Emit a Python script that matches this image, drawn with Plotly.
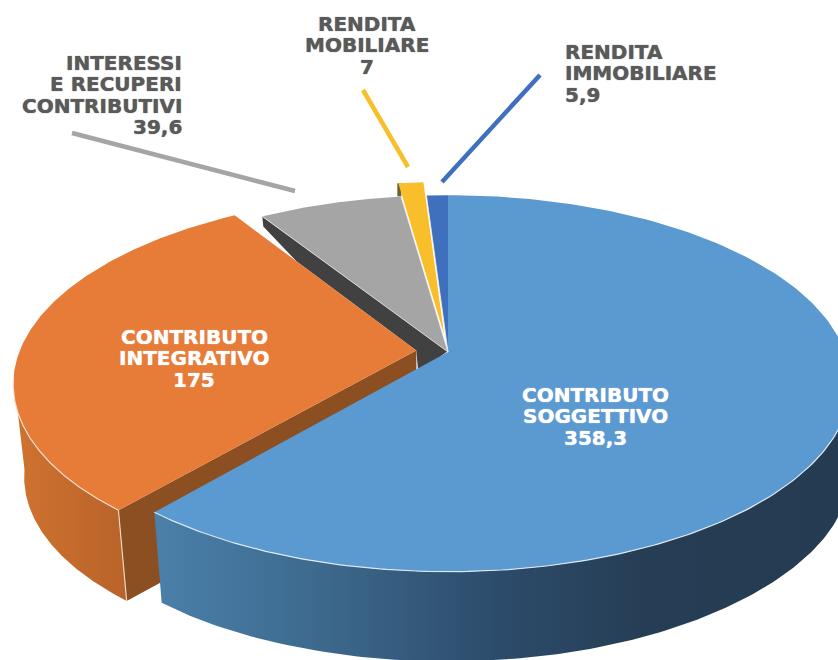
import numpy as np
import plotly.graph_objects as go

# ---------- data ----------
categories = ["Contributo soggettivo", "Contributo integrativo",
              "Interessi e recuperi contributivi", "Rendita mobiliare", "Rendita immobiliare"]
values = [358.3, 175, 39.6, 7, 5.9]
value_labels = ["358,3", "175", "39,6", "7", "5,9"]
label_lines = [["CONTRIBUTO", "SOGGETTIVO"], ["CONTRIBUTO", "INTEGRATIVO"],
               ["INTERESSI", "E RECUPERI", "CONTRIBUTIVI"], ["RENDITA", "MOBILIARE"],
               ["RENDITA", "IMMOBILIARE"]]

# ---------- style / layout ----------
W, H = 838, 660
CX, CY = 448, 352          # pie centre on the page
RX, RY, K = 397, 183, 0.167  # perspective disc
SX, SY, DEPTH = 0.975, 0.985, 93  # lower face of the extrusion
TOP = ["#5b99d1", "#e77c38", "#a5a5a5", "#f8bf2b", "#3f70bd"]
EXPLODE = [(0, 0), (-0.08, 0.008), (0, 0), (-0.01, 0.099), (0, 0)]
FONT = "DejaVu Sans"
DARK_TEXT = "#5a5a5a"

total = sum(values)
edges = np.concatenate([[0], np.cumsum(values)]) / total * 360


def project(theta, r=1.0, off=(0, 0), lower=False):
    t = np.radians(np.atleast_1d(theta))
    u = r * np.sin(t) + off[0]
    v = r * np.cos(t) + off[1]
    d = 1 + K * v
    x, y = RX * u / d, -RY * v / d
    if lower:
        flare = 1 + 0.02 * (np.clip(x, 0, None) / RX) ** 4
        return CX + SX * x * flare, CY + DEPTH + SY * y
    return CX + x, CY + y


def arc(a, b, n=160):
    return np.linspace(a, b, n)


fig = go.Figure()


def poly(xs, ys, color=None, gradient=None):
    kw = dict(fillgradient=gradient) if gradient else dict(fillcolor=color)
    fig.add_trace(go.Scatter(x=list(xs), y=list(ys), mode="lines", fill="toself",
                             line=dict(width=0), hoverinfo="skip", **kw))


def stroke(xs, ys, color, width, opacity=1.0):
    fig.add_trace(go.Scatter(x=list(xs), y=list(ys), mode="lines", opacity=opacity,
                             line=dict(color=color, width=width), hoverinfo="skip"))


def wedge(i):
    xa, ya = project(arc(edges[i], edges[i + 1]), off=EXPLODE[i])
    x0, y0 = project(0, r=0, off=EXPLODE[i])
    return np.r_[x0, xa, x0], np.r_[y0, ya, y0]


def side(a, b, off):
    xt, yt = project(arc(a, b), off=off)
    xb, yb = project(arc(a, b), off=off, lower=True)
    return np.r_[xt, xb[::-1]], np.r_[yt, yb[::-1]]


# inner dark face of the grey slice
gx, gy = project(edges[2])
ox, oy = project(0, r=0, off=EXPLODE[1])
cx0, cy0 = project(0, r=0)
cxr, cyr = project(edges[2], off=EXPLODE[1])   # far corner of the orange slice
JOIN = 0.34                                    # where the dark face meets the orange edge
jx, jy = cxr[0] + JOIN * (ox[0] - cxr[0]), cyr[0] + JOIN * (oy[0] - cyr[0])
poly([gx[0], gx[0] + 1, jx, ox[0], ox[0] + 2, cx0[0], gx[0]],
     [gy[0], gy[0] + 10, jy, oy[0], oy[0] + 22, cy0[0] - 1, gy[0]], "#414141")
poly(*wedge(2), TOP[2])

# small slices
yx, yy = project(edges[3], off=EXPLODE[3])
poly([yx[0] - 1, yx[0] + 3, yx[0] + 3, yx[0] - 1], [yy[0], yy[0], yy[0] + 13, yy[0] + 13], "#6b6033")
poly(*wedge(3), TOP[3])
poly(*wedge(4), TOP[4])

# orange slice, with its faces
bx0, by0 = project(0, r=0, off=EXPLODE[1], lower=True)
cxb, cyb = project(edges[1], off=EXPLODE[1], lower=True)
cxt, cyt = project(edges[1], off=EXPLODE[1])
poly([ox[0], cxt[0], cxb[0], bx0[0], ox[0]], [oy[0], cyt[0], cyb[0], by0[0], oy[0]], "#8c4f22")
poly(*side(edges[1], 262, EXPLODE[1]),
     gradient=dict(type="horizontal", colorscale=[[0, "#cf7330"], [1, "#b9632a"]]))
poly(*wedge(1), TOP[1])
rx_o, ry_o = project(arc(edges[1], 262), off=EXPLODE[1])
stroke(rx_o, ry_o, "#f6e7da", 1.2, 0.9)
stroke([cxt[0], cxb[0]], [cyt[0], cyb[0]], "#f6e7da", 1.2, 0.85)

# main blue slice, with its faces
poly(*side(90, edges[1], EXPLODE[0]),
     gradient=dict(type="horizontal", colorscale=[[0, "#4b80aa"], [0.2, "#3f6d92"], [0.5, "#2c4b6a"],
                                                   [0.7, "#263e55"], [1, "#243b51"]]))
poly(*wedge(0), TOP[0])
rx_b, ry_b = project(arc(90, edges[1]))
stroke(rx_b, ry_b, "#eaf2f8", 1.2, 0.9)

# thin white seams between the top slices
for edge_i in (2, 3, 4):
    sx, sy = project(edges[edge_i])
    stroke([cx0[0], sx[0]], [cy0[0], sy[0]], "#f2f2f2", 1, 0.8)

# leader lines
leaders = [([72, 295], [133, 191], TOP[2]), ([363, 408], [90, 167], TOP[3]), ([540, 442], [75, 182], TOP[4])]
for lx, ly, col in leaders:
    stroke(lx, ly, col, 4.5)

# text, one annotation per line for tight leading
placements = [(595, 395, "center", "#ffffff"), (194, 337, "center", "#ffffff"),
              (183, 63, "right", DARK_TEXT), (367, 24, "center", DARK_TEXT), (564, 52, "left", DARK_TEXT)]
LEADING = 21.3
ann = []
for lines, val, (px, py, anchor, col) in zip(label_lines, value_labels, placements):
    for j, line in enumerate(lines + [val]):
        ann.append(dict(x=px, y=py + j * LEADING, text=line, xref="x", yref="y", showarrow=False,
                        xanchor=anchor, yanchor="middle", height=20, borderpad=0,
                        font=dict(family=FONT, size=20, color=col, weight="bold",
                                  shadow=f"0 0 1px {col}")))

fig.update_layout(
    width=W, height=H, autosize=False, showlegend=False,
    margin=dict(l=0, r=0, t=0, b=0), paper_bgcolor="white", plot_bgcolor="white",
    xaxis=dict(range=[0, W], visible=False, fixedrange=True),
    yaxis=dict(range=[H, 0], visible=False, fixedrange=True),
    annotations=ann,
)
fig.write_html("out.html", config={"displayModeBar": False},
               post_script="document.body.style.margin='0';")
